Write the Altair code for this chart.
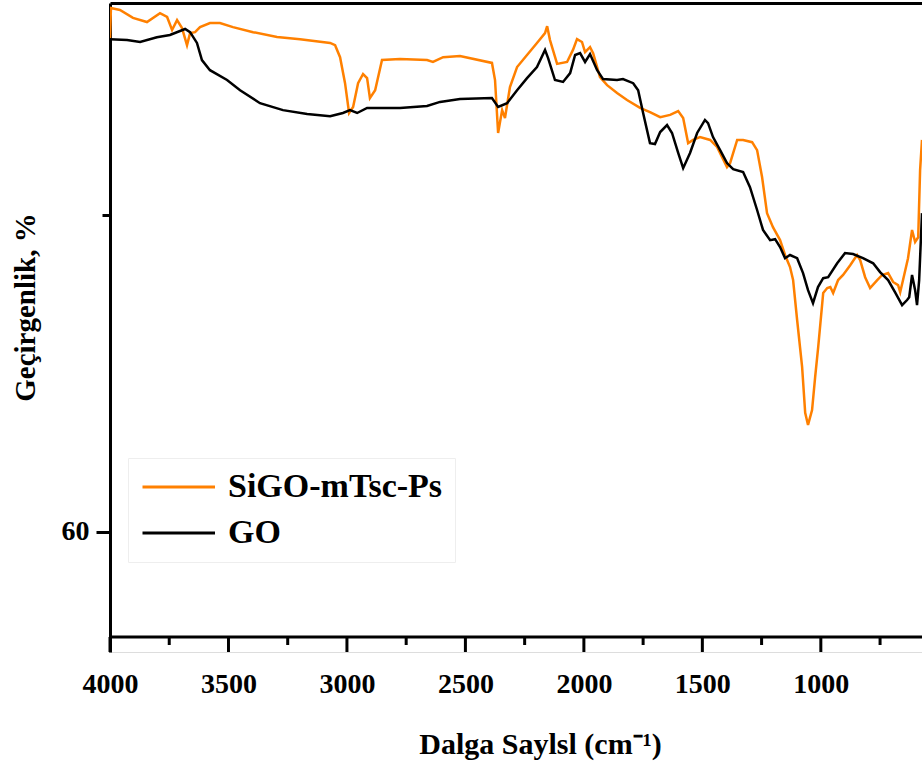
import altair as alt
import pandas as pd

# SiGO-mTsc-Ps (orange) : wavenumber (cm-1) and transmittance (%)
wn_sigo = [4000, 3996, 3958, 3903, 3844, 3789, 3759, 3738, 3717, 3696, 3675, 3662, 3641, 3620,
           3578, 3536, 3481, 3396, 3295, 3198, 3071, 3050, 3029, 3008, 2991, 2974, 2953, 2932,
           2915, 2903, 2881, 2852, 2776, 2662, 2637, 2594, 2523, 2388, 2375, 2362, 2345, 2333,
           2312, 2282, 2240, 2198, 2164, 2155, 2143, 2113, 2071, 2046, 2029, 2008, 1995, 1974,
           1961, 1932, 1902, 1860, 1818, 1763, 1721, 1678, 1636, 1602, 1581, 1560, 1539, 1510,
           1467, 1438, 1396, 1383, 1353, 1328, 1290, 1269, 1248, 1227, 1202, 1172, 1151, 1130,
           1117, 1100, 1079, 1066, 1054, 1037, 1024, 1011, 990, 973, 960, 948, 927, 906, 876,
           847, 834, 813, 792, 762, 741, 716, 695, 674, 665, 653, 632, 615, 602, 589, 581, 573]
t_sigo = [75.57, 76.52, 76.46, 76.21, 76.08, 76.36, 76.24, 75.83, 76.14, 75.89, 75.35, 75.73, 75.76, 75.92,
          76.05, 76.05, 75.92, 75.76, 75.61, 75.54, 75.42, 75.35, 74.97, 74.15, 73.21, 73.40, 74.15, 74.44,
          74.31, 73.68, 73.93, 74.88, 74.91, 74.88, 74.82, 74.97, 75.01, 74.79, 74.25, 72.58, 73.30, 73.05,
          74.03, 74.66, 75.04, 75.42, 75.73, 75.95, 75.51, 74.76, 74.82, 75.20, 75.54, 75.45, 75.13, 75.29,
          75.10, 74.34, 74.09, 73.84, 73.62, 73.37, 73.24, 73.08, 73.15, 73.27, 73.05, 72.26, 72.36, 72.45,
          72.36, 72.14, 71.50, 71.63, 72.36, 72.36, 72.29, 72.04, 71.19, 70.05, 69.61, 69.20, 68.73, 68.35,
          67.94, 66.68, 65.20, 63.75, 63.37, 63.84, 64.88, 65.83, 67.53, 67.69, 67.72, 67.53, 67.94, 68.10, 68.41,
          68.73, 68.57, 68.03, 67.69, 67.94, 68.10, 68.16, 67.88, 67.78, 67.56, 67.94, 68.63, 69.52, 69.14, 69.29, 71.41, 72.36]

# GO (black)
wn_go = [4000, 3928, 3873, 3802, 3747, 3683, 3662, 3633, 3612, 3578, 3506, 3451, 3367, 3270, 3168,
         3071, 3017, 2987, 2957, 2915, 2776, 2662, 2607, 2523, 2388, 2362, 2324, 2282, 2240, 2198,
         2164, 2151, 2122, 2088, 2058, 2037, 2016, 1995, 1974, 1944, 1919, 1860, 1835, 1792, 1771,
         1750, 1721, 1700, 1678, 1649, 1628, 1602, 1581, 1552, 1522, 1489, 1476, 1455, 1425, 1396,
         1370, 1328, 1299, 1269, 1244, 1214, 1193, 1172, 1151, 1130, 1100, 1075, 1054, 1033, 1012,
         990, 969, 931, 898, 864, 822, 779, 750, 716, 687, 657, 636, 627, 615, 602, 594, 585, 573]
t_go = [75.54, 75.51, 75.45, 75.60, 75.67, 75.86, 75.76, 75.42, 74.88, 74.56, 74.25, 73.93, 73.52, 73.30, 73.18,
        73.11, 73.21, 73.30, 73.21, 73.37, 73.37, 73.43, 73.56, 73.65, 73.68, 73.40, 73.52, 73.93, 74.31, 74.66,
        75.20, 74.94, 74.25, 74.19, 74.47, 75.04, 75.10, 74.82, 75.07, 74.56, 74.28, 74.25, 74.28, 74.15, 73.93,
        73.21, 72.26, 72.23, 72.61, 72.83, 72.58, 71.95, 71.47, 71.95, 72.58, 72.99, 72.89, 72.45, 72.04, 71.63,
        71.44, 71.35, 70.87, 70.15, 69.52, 69.20, 69.23, 68.98, 68.63, 68.73, 68.63, 68.16, 67.62, 67.21, 67.72,
        68.00, 68.03, 68.47, 68.79, 68.76, 68.63, 68.47, 68.19, 67.94, 67.56, 67.15, 67.31, 67.40, 68.10, 67.62, 67.15, 67.94, 70.05]

series_names = ["SiGO-mTsc-Ps", "GO"]
series_colors = ["#ff8000", "#000000"]
x_major = [4000, 3500, 3000, 2500, 2000, 1500, 1000]
x_minor = [3750, 3250, 2750, 2250, 1750, 1250, 750]
y_major = [60]
y_minor = [70]

Y_LO, Y_HI = 56.68, 76.68          # frame of the plot (bottom axis line at Y_LO)
FRAME_H = 634                       # pixels between top border and bottom axis line
UNIT = FRAME_H / (Y_HI - Y_LO)      # pixels per % unit
TICK_MAJ, TICK_MIN = 15, 8          # tick lengths in pixels
Y_SCALE_LO = Y_LO - TICK_MAJ / UNIT # extra room below the axis line for the ticks
PLOT_W, PLOT_H = 812, FRAME_H + TICK_MAJ

df = pd.concat([
    pd.DataFrame({"wn": wn_sigo, "t": t_sigo, "series": series_names[0], "ord": range(len(wn_sigo))}),
    pd.DataFrame({"wn": wn_go, "t": t_go, "series": series_names[1], "ord": range(len(wn_go))}),
])
tick_df = pd.DataFrame({
    "v": x_major + x_minor,
    "y0": [Y_LO] * (len(x_major) + len(x_minor)),
    "y1": [Y_LO - TICK_MAJ / UNIT] * len(x_major) + [Y_LO - TICK_MIN / UNIT] * len(x_minor),
})
base_df = pd.DataFrame({"y": [Y_LO]})

FONT = "Liberation Serif"
xs = alt.Scale(domain=[4000, 573], nice=False, zero=False)
ys = alt.Scale(domain=[Y_SCALE_LO, Y_HI], nice=False, zero=False)

lines = alt.Chart(df).mark_line(strokeWidth=2.5, clip=True).encode(
    x=alt.X("wn:Q", scale=xs, axis=alt.Axis(
        orient="bottom", values=x_major, format="d", ticks=False, tickSize=0, domain=False,
        grid=False, labelFlush=False,
        labelFont=FONT, labelFontSize=28, labelFontWeight="bold", labelColor="black", labelPadding=18,
        title="Dalga Saylsl (cm⁻¹)", titleFont=FONT, titleFontSize=30, titleFontWeight="bold",
        titleColor="black", titleX=430, titleY=101, titleBaseline="alphabetic", titleAlign="center")),
    y=alt.Y("t:Q", scale=ys, axis=alt.Axis(
        orient="left", values=y_major, format="d", ticks=True, tickSize=14, tickWidth=3, domainWidth=3,
        domainColor="black", tickColor="black", grid=False,
        labelFont=FONT, labelFontSize=28, labelFontWeight="bold", labelColor="black", labelPadding=7,
        title="Geçirgenlik, %", titleFont=FONT, titleFontSize=29, titleFontWeight="bold",
        titleColor="black", titleX=-70, titleY=304, titleAlign="center", titleBaseline="bottom", titleAngle=270)),
    color=alt.Color("series:N", scale=alt.Scale(domain=series_names, range=series_colors),
                    sort=series_names,
                    legend=alt.Legend(orient="none", legendX=18, legendY=455, title=None,
                                      symbolType="M-1,0H4", symbolSize=841, symbolStrokeWidth=3,
                                      labelFont=FONT, labelFontSize=34, labelFontWeight="bold",
                                      labelColor="black", labelLimit=400, labelOffset=54,
                                      padding=12, rowPadding=12, strokeColor="#eeeeee")),
    order="ord:Q",
)

# bottom axis line
baseline = alt.Chart(base_df).mark_rule(strokeWidth=3, color="black").encode(
    y=alt.Y("y:Q", scale=ys, axis=None),
)

# x tick marks (major and minor) hanging below the axis line
xticks = alt.Chart(tick_df).mark_rule(strokeWidth=3, color="black").encode(
    x=alt.X("v:Q", scale=xs, axis=None),
    y=alt.Y("y0:Q", scale=ys, axis=None),
    y2="y1:Q",
)

minor = alt.Chart(df).mark_line(opacity=0).encode(
    x=alt.X("wn:Q", scale=xs, axis=None),
    y=alt.Y("t:Q", scale=ys, axis=alt.Axis(
        orient="left", values=y_minor, ticks=True, tickSize=8, tickWidth=3, tickColor="black",
        labels=False, domain=False, grid=False, title=None)),
    detail="series:N",
)

topborder = alt.Chart(df).mark_line(opacity=0).encode(
    x=alt.X("wn:Q", scale=xs, axis=alt.Axis(
        orient="top", values=[4000], tickSize=0, labels=False, domain=True, domainWidth=3,
        domainColor="black", grid=False, title=None)),
    y=alt.Y("t:Q", scale=ys, axis=None),
    detail="series:N",
)

chart = alt.layer(lines, minor, topborder, baseline, xticks).resolve_axis(
    x="independent", y="independent").properties(
    width=PLOT_W, height=PLOT_H,
    autosize=alt.AutoSizeParams(type="none"),
    padding={"left": 110, "top": 3, "right": 0, "bottom": 765 - 3 - PLOT_H},
).configure_view(stroke=None).configure(background="white")

chart.save("out.html", embed_options={"renderer": "svg", "actions": False})
